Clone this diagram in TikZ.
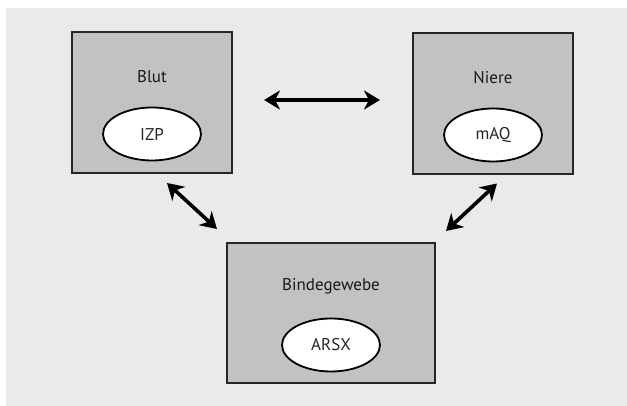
\documentclass[tikz,border=0pt]{standalone}
\usepackage{fontspec}
\setmainfont{PT Sans}
\usepackage{xcolor}
\definecolor{pagegray}{HTML}{EAEAEA}
\definecolor{boxgray}{HTML}{C2C2C2}
\usepackage{tikz}
\usetikzlibrary{shapes.geometric, arrows.meta, positioning}

\begin{document}
\begin{tikzpicture}[x=1pt, y=1pt,
	box/.style={rectangle, draw=black!85, line width=2pt, fill=boxgray, inner sep=0pt},
	pool/.style={ellipse, draw=black, line width=1.8pt, fill=white, minimum width=98pt,
	             minimum height=53pt, inner sep=0pt, font=\fontsize{17}{20}\selectfont, text=black!85},
	lbl/.style={font=\fontsize{17}{20}\selectfont, text=black!90, inner sep=0pt},
	arr/.style={{Stealth[length=16pt, width=19pt, inset=5pt]}-{Stealth[length=16pt, width=19pt, inset=5pt]},
	            line width=3.6pt, black}
	]
	\useasboundingbox (0,0) rectangle (627,406);
	\fill[pagegray] (6,0) rectangle (627,398);

	\node[box, minimum width=160pt, minimum height=141pt] (blut) at (152,303.5) {};
	\node[box, minimum width=160pt, minimum height=141pt] (niere) at (493,302.5) {};
	\node[box, minimum width=208pt, minimum height=140pt] (binde) at (331,93) {};

	\node[lbl] (blutlbl) at ([yshift=-46pt]blut.north) {Blut};
	\node[lbl] (nierelbl) at ([yshift=-46pt]niere.north) {Niere};
	\node[lbl] (bindelbl) at ([yshift=-44pt]binde.north) {Bindegewebe};

	\node[pool] (izp) at ([yshift=40pt]blut.south) {IZP};
	\node[pool] (maq) at ([yshift=40pt]niere.south) {mAQ};
	\node[pool] (arsx) at ([yshift=39pt]binde.south) {ARSX};

	\draw[arr] ([shift={(31pt,2.5pt)}]blut.east) -- ([shift={(-32pt,3.5pt)}]niere.west);
	\draw[arr] ([shift={(15pt,-9pt)}]blut.south) -- ([shift={(-9pt,13pt)}]binde.north west);
	\draw[arr] ([shift={(4pt,-8.5pt)}]niere.south) -- ([shift={(10pt,11pt)}]binde.north east);
\end{tikzpicture}
\end{document}
